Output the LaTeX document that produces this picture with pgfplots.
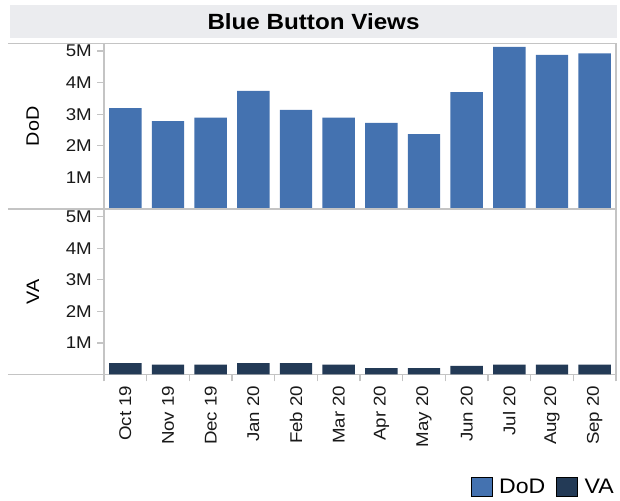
\documentclass[border=0pt]{standalone}
\usepackage{fontspec}
\setmainfont{Liberation Sans}[FakeStretch=1.1]
\usepackage{pgfplots}
\usepackage{pgfplotstable}
\pgfplotsset{compat=1.18}

\definecolor{dodblue}{HTML}{4472B0}
\definecolor{vanavy}{HTML}{233A56}
\definecolor{rulegray}{HTML}{C4C4C4}
\definecolor{bandgray}{HTML}{EBECEF}

% views in millions
\pgfplotstableread{
idx dod va
0 3.19 0.36
1 2.78 0.31
2 2.89 0.31
3 3.74 0.36
4 3.14 0.36
5 2.89 0.31
6 2.73 0.20
7 2.37 0.20
8 3.70 0.27
9 5.13 0.31
10 4.88 0.31
11 4.93 0.31
}\views

\pgfplotsset{
  panel/.style={
    scale only axis, width=512pt, height=165.5pt,
    anchor=south west,
    xmin=-0.5, xmax=11.5, ymin=0, ymax=5.24,
    axis line style={rulegray, line width=1.2pt},
    tick style={rulegray, line width=1.2pt},
    major tick length=0pt, minor tick length=7pt,
    tick align=outside,
    ytick={1,2,3,4,5}, minor ytick={1,2,3,4,5},
    yticklabels={1M,2M,3M,4M,5M},
    ytick pos=left,
    yticklabel style={anchor=east, inner xsep=12pt, inner ysep=0pt,
      font=\fontsize{17}{19}\selectfont, text=black!90},
    every axis y label/.style={at={(axis description cs:-0.139,0.5)},
      rotate=90, anchor=center, font=\fontsize{18}{20}\selectfont},
  },
  bars/.style={ybar, bar width=0.76, bar shift=0pt, draw=none, fill=#1},
}

\begin{document}
\begin{tikzpicture}
\useasboundingbox (0,0) rectangle (620pt,500pt);
\fill[bandgray] (10pt,462pt) rectangle (617pt,495pt);
\node[font=\fontsize{22}{24}\selectfont\bfseries] at (313.5pt,478.5pt) {Blue Button Views};

\begin{axis}[panel, at={(104pt,291pt)}, ylabel={DoD},
  xtick=\empty,
  after end axis/.code={
    \draw[rulegray, line width=1.2pt] ([xshift=-96pt]rel axis cs:0,1) -- (rel axis cs:0,1);
    \draw[rulegray, line width=1.2pt] ([xshift=-96pt]rel axis cs:0,0) -- (rel axis cs:0,0);
  }]
\addplot[bars=dodblue] table[x=idx, y=dod] {\views};
\end{axis}

\begin{axis}[panel, at={(104pt,125.5pt)}, ylabel={VA},
  xtick={0,...,11}, minor xtick={-0.5,0.5,...,11.5},
  xtick pos=bottom,
  xticklabels={Oct 19,Nov 19,Dec 19,Jan 20,Feb 20,Mar 20,Apr 20,May 20,Jun 20,Jul 20,Aug 20,Sep 20},
  xticklabel style={rotate=90, anchor=east, inner xsep=11pt, inner ysep=0pt,
    font=\fontsize{17}{19}\selectfont, text=black!90},
  legend style={at={(axis description cs:1.0,-0.677)}, anchor=east,
    draw=none, fill=none, inner sep=0pt, legend columns=2,
    font=\fontsize{21}{23}\selectfont,
    /tikz/every odd column/.append style={column sep=5pt},
    /tikz/every even column/.append style={column sep=9pt}},
  legend image code/.code={\fill[#1] (0pt,-9.5pt) rectangle (21pt,9.5pt);},
  after end axis/.code={
    \draw[rulegray, line width=1.2pt] ([xshift=-96pt]rel axis cs:0,0) -- (rel axis cs:0,0);
  }]
\addlegendimage{fill=dodblue}
\addlegendentry{DoD}
\addlegendimage{fill=vanavy}
\addlegendentry{VA}
\addplot[bars=vanavy, forget plot] table[x=idx, y=va] {\views};
\end{axis}
\end{tikzpicture}
\end{document}
